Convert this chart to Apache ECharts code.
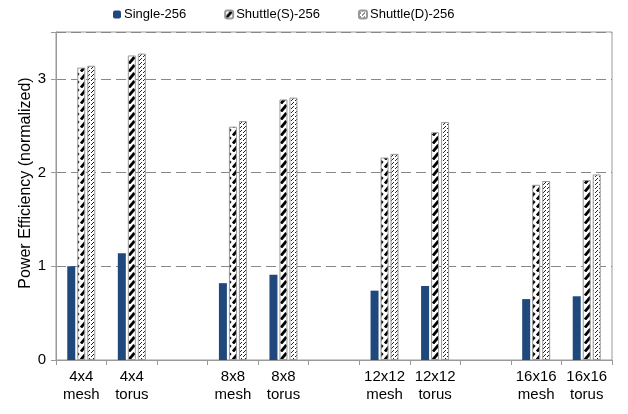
<!DOCTYPE html>
<html>
<head>
<meta charset="utf-8">
<script src="https://cdn.jsdelivr.net/npm/echarts@6/dist/echarts.min.js"></script>
<style>
  html, body { margin: 0; padding: 0; background: #fff; }
  #chart { width: 628px; height: 414px; }
</style>
</head>
<body>
<div id="chart"></div>
<script>
// categories (empty ones are the gaps between groups)
var categories = ["4x4\nmesh", "4x4\ntorus", "", "8x8\nmesh", "8x8\ntorus", "", "12x12\nmesh", "12x12\ntorus", "", "16x16\nmesh", "16x16\ntorus"];
var seriesNames = ["Single-256", "Shuttle(S)-256", "Shuttle(D)-256"];
var single = [1.0, 1.14, null, 0.82, 0.91, null, 0.74, 0.79, null, 0.65, 0.68];
var shuttleS = [3.12, 3.25, null, 2.49, 2.78, null, 2.16, 2.43, null, 1.87, 1.92];
var shuttleD = [3.14, 3.27, null, 2.55, 2.80, null, 2.20, 2.54, null, 1.91, 1.98];
var yTicks = [0, 1, 2, 3];

// pattern fills
function makeS() {
  var c = document.createElement("canvas");
  c.width = 8; c.height = 8;
  var g = c.getContext("2d");
  g.fillStyle = "#fff"; g.fillRect(0, 0, 8, 8);
  g.strokeStyle = "#000"; g.lineWidth = 2.8;
  g.beginPath(); g.moveTo(1, 7.5); g.lineTo(6.5, 1); g.stroke();
  return c;
}
function makeD() {
  var c = document.createElement("canvas");
  c.width = 4; c.height = 4;
  var g = c.getContext("2d");
  g.fillStyle = "#fff"; g.fillRect(0, 0, 4, 4);
  g.fillStyle = "#222";
  g.fillRect(0, 3, 1, 1);
  g.fillRect(1, 2, 1, 1);
  g.fillRect(3, 0, 1, 1);
  return c;
}

var chart = echarts.init(document.getElementById("chart"));
var font = "Liberation Sans";
var option = {
  animation: false,
  textStyle: { fontFamily: font },
  legend: {
    top: 3,
    left: 108,
    itemWidth: 8,
    itemHeight: 8,
    itemGap: 38,
    textStyle: { fontSize: 13, color: "#000", fontFamily: font, padding: [0, 0, 0, -2] },
    data: seriesNames
  },
  grid: {
    left: 56,
    right: 16,
    top: 32,
    bottom: 54,
    show: true,
    borderColor: "#999",
    borderWidth: 1
  },
  xAxis: {
    type: "category",
    data: categories,
    axisLine: { lineStyle: { color: "#999" } },
    axisTick: { show: true, interval: 0, length: 5, lineStyle: { color: "#999" } },
    axisLabel: { interval: 0, fontSize: 15, color: "#000", lineHeight: 18, margin: 8, fontFamily: font }
  },
  yAxis: {
    type: "value",
    min: 0,
    max: 3.5,
    interval: 1,
    name: "Power Efficiency (normalized)",
    nameLocation: "middle",
    nameGap: 22,
    nameMoveOverlap: false,
    nameTextStyle: { fontSize: 16, color: "#000", fontFamily: font, padding: [0, 0, 0, 26] },
    axisLine: { show: true, lineStyle: { color: "#999" } },
    axisTick: { show: true, length: 5, lineStyle: { color: "#999" } },
    axisLabel: {
      fontSize: 15, color: "#000", margin: 10, fontFamily: font,
      formatter: function (v) { return yTicks.indexOf(v) >= 0 ? String(v) : ""; }
    },
    splitLine: { lineStyle: { color: "#888", type: [10, 5], width: 1 } }
  },
  series: [
    {
      name: seriesNames[0], type: "bar", data: single,
      barWidth: 8, barGap: "25%",
      itemStyle: { color: "#1f497d" }
    },
    {
      name: seriesNames[1], type: "bar", data: shuttleS,
      barWidth: 8, barGap: "25%",
      itemStyle: { color: { image: makeS(), repeat: "repeat" }, borderColor: "#999", borderWidth: 1 }
    },
    {
      name: seriesNames[2], type: "bar", data: shuttleD,
      barWidth: 8, barGap: "25%",
      itemStyle: { color: { image: makeD(), repeat: "repeat" }, borderColor: "#999", borderWidth: 1 }
    }
  ]
};
chart.setOption(option);
</script>
</body>
</html>
